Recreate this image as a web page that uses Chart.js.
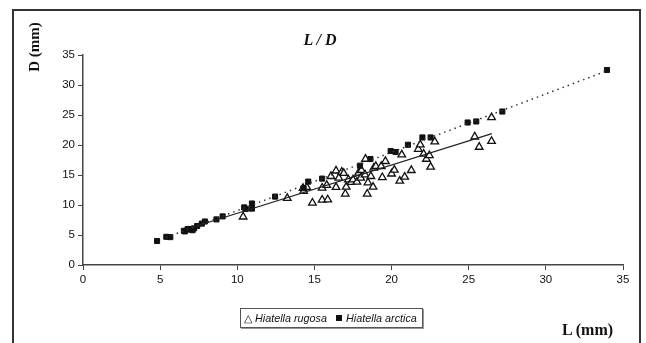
<!DOCTYPE html>
<html>
<head>
<meta charset="utf-8">
<script src="https://cdn.jsdelivr.net/npm/chart.js@4/dist/chart.umd.min.js"></script>
<style>
  html, body { margin: 0; padding: 0; background: #fff; }
  #wrap { position: relative; width: 646px; height: 343px; overflow: hidden; }
  #chart { position: absolute; left: 0; top: 0; }
  .frame { position: absolute; left: 12px; top: 9px; width: 629px; height: 345px;
           border: 2px solid #333; box-sizing: border-box; }
  .title { position: absolute; left: 0; width: 640px; top: 31px; text-align: center;
           font: italic bold 16px "Liberation Serif", serif; color: #111; }
  .ylab { position: absolute; left: 34px; top: 47px; transform: translate(-50%, -50%) rotate(-90deg);
          font: bold 15px "Liberation Serif", serif; color: #111; white-space: nowrap; }
  .xlab { position: absolute; left: 562px; top: 321px;
          font: bold 16px "Liberation Serif", serif; color: #111; white-space: nowrap; }
  .legend { position: absolute; left: 240px; top: 308px; width: 183px; height: 20px;
            border: 1px solid #555; box-shadow: 1px 1px 0 #999; box-sizing: border-box;
            font: italic 10.8px "Liberation Sans", Arial, sans-serif; color: #111;
            line-height: 18px; padding-left: 3px; white-space: nowrap; }
  .legend .m { font-style: normal; margin-right: 3px; }
  .legend .sq { display: inline-block; width: 6px; height: 6px; background: #111; margin: 0 4px 1px 9px; }
</style>
</head>
<body>
<div id="wrap">
  <canvas id="chart" width="646" height="343"></canvas>
  <div class="frame"></div>
  <div class="title">L / D</div>
  <div class="ylab">D (mm)</div>
  <div class="xlab">L (mm)</div>
  <div class="legend"><span class="m">△</span>Hiatella rugosa<span class="sq"></span>Hiatella arctica</div>
</div>
<script>
// Hiatella arctica (filled squares)
const arcticaL = [4.8, 5.4, 5.66, 6.54, 6.6, 6.78, 6.9, 6.97, 7.1, 7.2, 7.4, 7.7, 7.9, 8.65, 9.05,
  10.45, 10.55, 10.95, 10.95, 12.45, 14.3, 14.6, 15.5, 17.95, 18.63, 19.94, 20.26, 21.06,
  22.0, 22.53, 24.93, 25.49, 27.18, 33.96];
const arcticaD = [4.0, 4.7, 4.65, 5.7, 5.6, 6.0, 6.0, 5.9, 5.8, 6.1, 6.5, 6.9, 7.25, 7.6, 8.1,
  9.6, 9.35, 10.25, 9.4, 11.4, 12.8, 13.9, 14.4, 16.55, 17.66, 19.0, 18.83, 20.04,
  21.26, 21.26, 23.75, 23.92, 25.58, 32.5];

// Hiatella rugosa (open triangles)
const rugosaL = [10.38, 13.24, 14.26, 14.3, 14.5, 14.87, 15.5, 15.5, 15.86, 15.8, 16.07, 16.4, 16.4,
  16.58, 16.77, 16.9, 17.0, 17.06, 17.2, 17.38, 17.5, 17.75, 17.86, 18.0, 18.05, 18.28, 18.31,
  18.42, 18.47, 18.66, 18.8, 18.85, 18.98, 19.33, 19.4, 19.6, 20.0, 20.18, 20.53, 20.66, 20.85,
  21.28, 21.73, 21.86, 22.08, 22.26, 22.45, 22.53, 22.8, 25.39, 25.68, 26.48, 26.48];
const rugosaD = [8.03, 11.13, 12.79, 12.3, 12.96, 10.35, 10.85, 12.85, 10.9, 13.3, 14.78, 12.96, 15.7,
  14.5, 15.5, 15.3, 11.85, 13.0, 14.23, 13.8, 14.23, 13.84, 15.34, 14.5, 15.78, 15.06, 17.66,
  11.85, 13.73, 14.78, 13.0, 16.17, 16.45, 16.45, 14.6, 17.28, 15.2, 15.84, 14.0, 18.38, 14.67,
  15.78, 19.32, 20.04, 18.5, 17.66, 18.27, 16.33, 20.54, 21.37, 19.66, 24.58, 20.65];

// trend line end points
const arcticaTrendL = [5.4, 34.0];
const arcticaTrendD = [4.6, 32.4];
const rugosaTrendL = [7.0, 26.5];
const rugosaTrendD = [6.2, 21.9];

const xTicks = [0, 5, 10, 15, 20, 25, 30, 35];
const yTicks = [0, 5, 10, 15, 20, 25, 30, 35];

const pts = (xs, ys) => xs.map((x, i) => ({ x: x, y: ys[i] }));

const axisColor = '#444';
const tickFont = { family: '"Liberation Sans", Arial, sans-serif', size: 11.5 };

new Chart(document.getElementById('chart'), {
  type: 'scatter',
  data: {
    datasets: [
      {
        label: 'Hiatella arctica trend',
        type: 'line',
        data: pts(arcticaTrendL, arcticaTrendD),
        borderColor: '#333',
        borderWidth: 1.5,
        borderDash: [1.5, 4],
        pointRadius: 0,
        fill: false
      },
      {
        label: 'Hiatella rugosa trend',
        type: 'line',
        data: pts(rugosaTrendL, rugosaTrendD),
        borderColor: '#222',
        borderWidth: 1.2,
        pointRadius: 0,
        fill: false
      },
      {
        label: 'Hiatella arctica',
        data: pts(arcticaL, arcticaD),
        pointStyle: 'rect',
        pointRadius: 3.6,
        backgroundColor: '#111',
        borderColor: '#111',
        borderWidth: 1
      },
      {
        label: 'Hiatella rugosa',
        data: pts(rugosaL, rugosaD),
        pointStyle: 'triangle',
        pointRadius: 4.4,
        backgroundColor: 'rgba(255,255,255,0.9)',
        borderColor: '#111',
        borderWidth: 1.3
      }
    ]
  },
  options: {
    responsive: false,
    animation: false,
    layout: { padding: { left: 0, top: 55, right: 23, bottom: 0 } },
    plugins: {
      legend: { display: false },
      title: { display: false },
      tooltip: { enabled: false }
    },
    scales: {
      x: {
        type: 'linear',
        min: 0,
        max: 35,
        afterFit: (scale) => { scale.height = 78; },
        afterBuildTicks: (scale) => { scale.ticks = xTicks.map(v => ({ value: v })); },
        grid: { drawOnChartArea: false, tickLength: 5, color: axisColor },
        border: { color: axisColor, width: 1.5 },
        ticks: { color: '#111', font: tickFont, padding: 3, maxRotation: 0 }
      },
      y: {
        type: 'linear',
        min: 0,
        max: 35,
        afterFit: (scale) => { scale.width = 83; },
        afterBuildTicks: (scale) => { scale.ticks = yTicks.map(v => ({ value: v })); },
        grid: { drawOnChartArea: false, tickLength: 5, color: axisColor },
        border: { color: axisColor, width: 1.5 },
        ticks: { color: '#111', font: tickFont, padding: 3 }
      }
    }
  }
});
</script>
</body>
</html>
